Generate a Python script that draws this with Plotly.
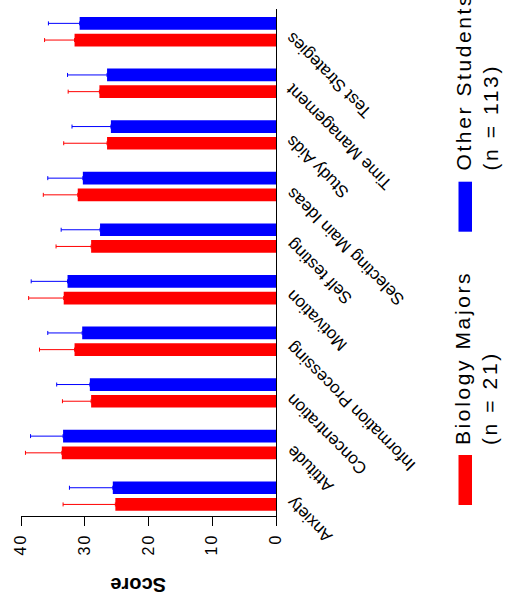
import plotly.graph_objects as go

categories = ["Anxiety", "Attitude", "Concentration", "Information Processing",
              "Motivation", "Self testing", "Selecting Main Ideas", "Study Aids",
              "Time Management", "Test Strategies"]
bio_mean = [25.2, 33.6, 29.0, 31.6, 33.3, 29.0, 31.1, 26.5, 27.7, 31.6]
bio_sd = [8.2, 5.7, 4.5, 5.5, 5.5, 5.5, 5.4, 6.8, 4.9, 4.7]
other_mean = [25.6, 33.4, 29.2, 30.4, 32.7, 27.6, 30.3, 25.9, 26.5, 30.8]
other_sd = [6.8, 5.1, 5.2, 5.4, 5.7, 6.1, 5.5, 6.1, 6.2, 4.9]
tick_vals = [0, 10, 20, 30, 40]
tick_text = ["0", "10", "20", "30", "40"]
legend_names = ["Biology Majors", "Other Students"]
legend_n = ["(n = 21)", "(n = 113)"]
colors = ["#FF0000", "#0000FF"]

FONT = "Arial, Liberation Sans, Helvetica, sans-serif"
W, H = 508, 600
ML, MR, MT, MB = 21, 232, 9, 84
PW = W - ML - MR
PH = H - MT - MB


def px_x(p):
    return (p - ML) / PW


def px_y(p):
    return (H - MB - p) / PH


fig = go.Figure()
for name, mean, sd, col in [(legend_names[0], bio_mean, bio_sd, colors[0]),
                            (legend_names[1], other_mean, other_sd, colors[1])]:
    fig.add_trace(go.Bar(
        y=categories, x=mean, orientation="h", name=name,
        marker=dict(color=col, line=dict(width=0)),
        error_x=dict(type="data", symmetric=False, array=sd,
                     arrayminus=[0] * len(sd), color=col, thickness=1, width=2),
        showlegend=False, hoverinfo="skip",
    ))

annotations = []
for i, c in enumerate(categories):
    annotations.append(dict(
        x=1, xref="paper", y=i, yref="y", text=c, showarrow=False,
        textangle=-135, xanchor="left", yanchor="top", xshift=4, yshift=6,
        font=dict(family=FONT, size=17, color="black"),
    ))

annotations.append(dict(
    x=px_x(138), xref="paper", y=px_y(585), yref="paper", text="<b>Score</b>",
    showarrow=False, textangle=180, xanchor="center", yanchor="middle",
    font=dict(family=FONT, size=20, color="black"),
))

shapes = []
leg = [(455, 505, 447), (181.7, 231.7, 173)]
for k in range(2):
    y0, y1, ytxt = leg[k]
    shapes.append(dict(type="rect", xref="paper", yref="paper",
                       x0=px_x(458.5), x1=px_x(472), y0=px_y(y1), y1=px_y(y0),
                       fillcolor=colors[k], line=dict(width=0)))
    annotations.append(dict(
        x=px_x(449), xref="paper", y=px_y(ytxt), yref="paper",
        text=legend_names[k] + "<br>" + legend_n[k], showarrow=False,
        textangle=-90, xanchor="left", yanchor="bottom", align="left",
        font=dict(family=FONT, size=21, color="black"),
    ))

fig.update_layout(
    width=W, height=H,
    margin=dict(l=ML, r=MR, t=MT, b=MB, pad=0),
    paper_bgcolor="white", plot_bgcolor="white",
    barmode="group", bargap=0.353, bargroupgap=0.24,
    font=dict(family=FONT, color="black"),
    xaxis=dict(range=[40, 0], tickvals=tick_vals, ticktext=tick_text,
               tickangle=-90, ticks="outside", ticklen=9, tickwidth=1,
               tickcolor="black", showline=True, linecolor="black", linewidth=1,
               showgrid=False, zeroline=False, tickfont=dict(size=16),
               ticklabelstandoff=1),
    yaxis=dict(side="right", range=[-0.386, 9.44], showline=True,
               linecolor="black", linewidth=1, showgrid=False, zeroline=False,
               showticklabels=False, ticks=""),
    annotations=annotations, shapes=shapes,
)

post = (
    "document.body.style.margin='0';document.body.style.overflow='hidden';"
    "var gd=document.getElementById('{plot_id}');"
    "gd.querySelectorAll('.annotation-text').forEach(function(t){"
    "if(t.textContent.indexOf('(n =')>=0){t.style.letterSpacing='2.6px';}});"
    "gd.querySelectorAll('.xtick text').forEach(function(t){"
    "t.style.letterSpacing='2.2px';});"
)

fig.write_html("out.html", config={"displayModeBar": False, "staticPlot": True},
               post_script=post)
